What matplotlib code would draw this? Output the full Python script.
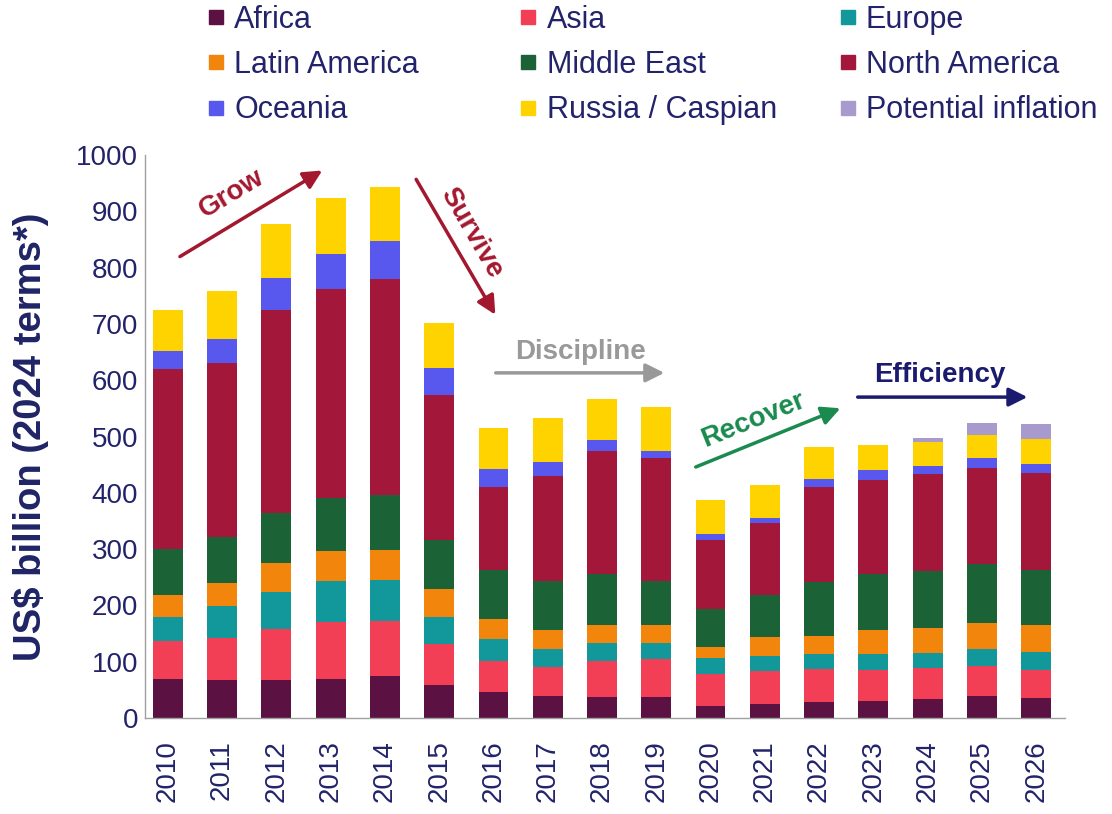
import numpy as np
import matplotlib
matplotlib.use('Agg')
import matplotlib.pyplot as plt
from matplotlib.lines import Line2D

plt.rcParams['font.family'] = ['Liberation Sans', 'DejaVu Sans']

years = ['2010', '2011', '2012', '2013', '2014', '2015', '2016', '2017', '2018',
         '2019', '2020', '2021', '2022', '2023', '2024', '2025', '2026']

# Spend by region, US$ billion (2024 terms)
africa    = [69, 68, 68, 69, 75, 58, 46, 40, 37, 37, 22, 25, 28, 30, 33, 40, 36]
asia      = [68, 75, 90, 102, 98, 73, 55, 51, 64, 67, 56, 58, 59, 56, 56, 53, 50]
europe    = [42, 56, 66, 72, 73, 49, 39, 32, 32, 30, 29, 28, 27, 28, 26, 30, 32]
latam     = [40, 40, 51, 53, 52, 50, 36, 34, 33, 32, 19, 33, 32, 42, 45, 46, 48]
mideast   = [81, 82, 89, 95, 98, 86, 87, 86, 89, 77, 68, 75, 95, 99, 102, 105, 97]
namerica  = [320, 309, 361, 371, 383, 257, 148, 186, 219, 218, 123, 127, 170, 168, 172, 170, 173]
oceania   = [31, 44, 57, 63, 68, 49, 31, 25, 20, 14, 9, 9, 14, 18, 14, 18, 16]
russia    = [73, 84, 96, 98, 96, 80, 73, 79, 73, 77, 62, 58, 56, 44, 42, 41, 44]
inflation = [0, 0, 0, 0, 0, 0, 0, 0, 0, 0, 0, 0, 0, 0, 7, 21, 27]

series = [('Africa', africa, '#5B1142'),
          ('Asia', asia, '#F23F56'),
          ('Europe', europe, '#12989B'),
          ('Latin America', latam, '#F2850C'),
          ('Middle East', mideast, '#1B6336'),
          ('North America', namerica, '#A3183A'),
          ('Oceania', oceania, '#5858EE'),
          ('Russia / Caspian', russia, '#FFD300'),
          ('Potential inflation', inflation, '#A99ACD')]

navy = '#22236A'

fig = plt.figure(figsize=(11.12, 8.14), dpi=100)
ax = fig.add_axes([0.1304, 0.1179, 0.8273, 0.6917])

x = np.arange(len(years))
bottom = np.zeros(len(years))
handles = {}
for name, vals, col in series:
    vals = np.array(vals, dtype=float)
    ax.bar(x, vals, width=0.55, bottom=bottom, color=col, linewidth=0)
    bottom += vals
    handles[name] = Line2D([], [], marker='s', color=col, linestyle='none', markersize=9.5)

ax.set_xlim(-0.42, 16.53)
ax.set_ylim(0, 1000)
ax.set_yticks(np.arange(0, 1001, 100))
ax.set_xticks(x)
ax.set_xticklabels(years, rotation=90)
ax.tick_params(axis='both', length=0, labelsize=20, labelcolor=navy)
ax.tick_params(axis='x', pad=16)
ax.tick_params(axis='y', pad=5)
for s in ['top', 'right']:
    ax.spines[s].set_visible(False)
for s in ['left', 'bottom']:
    ax.spines[s].set_color('#A0A0A0')
    ax.spines[s].set_linewidth(1.0)
ax.set_ylabel('US$ billion (2024 terms*)', fontsize=27.5, fontweight='bold',
              color='#1F2466', va='center')
ax.yaxis.set_label_coords(-0.125, 0.5)

# Legend: three columns placed by hand
cols = [(['Africa', 'Latin America', 'Oceania'], 0.186),
        (['Asia', 'Middle East', 'Russia / Caspian'], 0.467),
        (['Europe', 'North America', 'Potential inflation'], 0.754)]
for names, xpos in cols:
    leg = fig.legend([handles[n] for n in names], names, loc='upper left',
                     bbox_to_anchor=(xpos, 0.994), frameon=False, fontsize=22,
                     handlelength=0.6, handletextpad=0.3, labelspacing=0.5,
                     borderpad=0.0, borderaxespad=0.0)
    for t in leg.get_texts():
        t.set_color(navy)

# Phase arrows
def phase(text, tail, head, tpos, rot, col):
    ax.annotate('', xy=head, xytext=tail,
                arrowprops=dict(arrowstyle='-|>', color=col, lw=2.5, mutation_scale=28))
    ax.text(tpos[0], tpos[1], text, rotation=rot, color=col, fontsize=20,
            fontweight='bold', ha='center', va='center', rotation_mode='anchor')

phase('Grow', (0.18, 817), (2.89, 975), (1.18, 932), 31, '#A3182F')
phase('Survive', (4.55, 961), (6.06, 712), (5.6, 861), -60, '#A3182F')
phase('Discipline', (5.99, 613), (9.2, 613), (7.6, 650), 0, '#999999')
phase('Recover', (9.68, 444), (12.44, 552), (10.78, 529), 22, '#1A8A4E')
phase('Efficiency', (12.66, 570), (15.89, 570), (14.23, 609), 0, '#1A1A6E')

plt.savefig('out.png', dpi=100)
